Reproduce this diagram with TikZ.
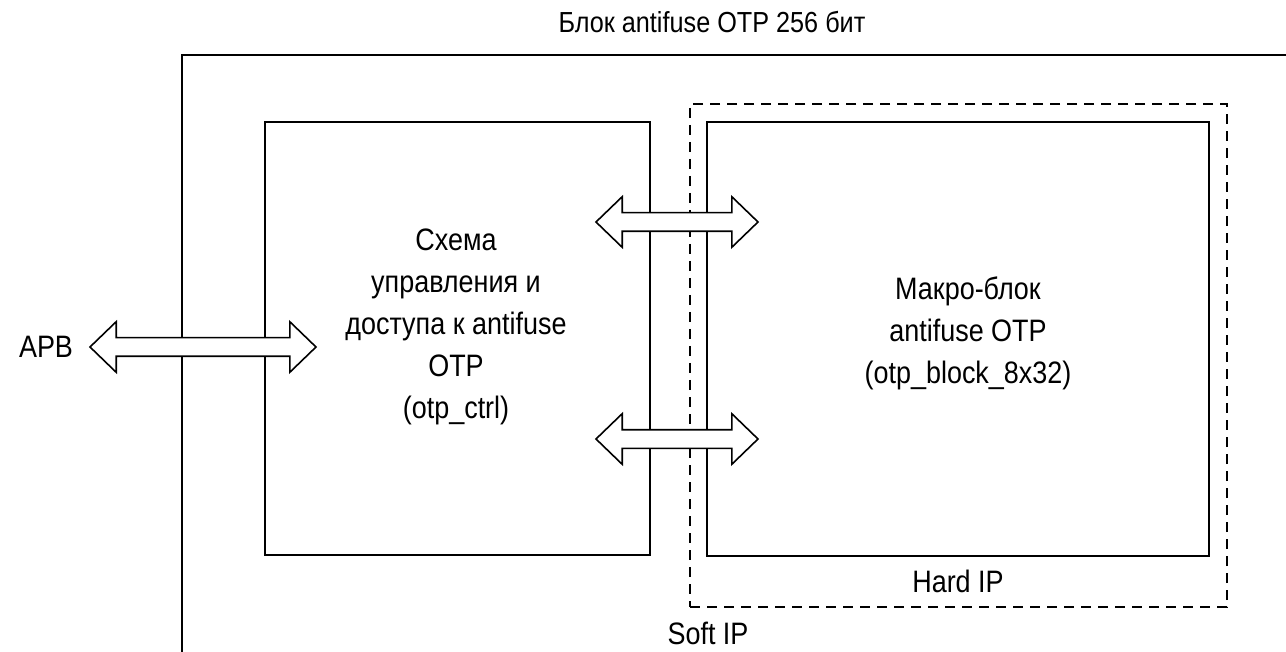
\documentclass[tikz,border=0pt]{standalone}
\usepackage{fontspec}
\setmainfont{Liberation Sans}[FakeStretch=0.87]
\usetikzlibrary{shapes.arrows}

\begin{document}
\begin{tikzpicture}[x=1pt, y=-1pt, font=\fontsize{31}{42}\selectfont, line width=1.6pt,
  box/.style={draw, align=center, inner sep=0pt},
  busarrow/.style={draw, fill=white, double arrow, inner xsep=0pt, inner ysep=8.5pt,
    double arrow head extend=16pt, double arrow tip angle=88, minimum height=#1}]
\useasboundingbox (0,0) rectangle (1286,652);
% outer block, runs off the page
\draw (1286,55) -- (182,55) -- (182,652);
\node[font=\fontsize{29}{36}\selectfont] (title) at (712,22) {Блок antifuse OTP 256 бит};
\node[box, dash pattern=on 10pt off 7pt, minimum width=537pt, minimum height=503pt] (soft) at (958.5,355.5) {};
\node[box, minimum width=385pt, minimum height=433pt] (ctrl) at (457.5,338.5) {};
\node[align=center] (ctrltext) at (456,327) {Схема\\управления и\\доступа к antifuse\\OTP\\(otp\_ctrl)};
\node[box, minimum width=502pt, minimum height=434pt] (hard) at (958,339) {};
\node[align=center] (hardtext) at (968,333) {Макро-блок\\antifuse OTP\\(otp\_block\_8x32)};
\node (hardlbl) at (958,581) {Hard IP};
\node (softlbl) at (708,633) {Soft IP};
\node (apb) at (46,347) {APB};
% bus arrows
\node[busarrow=226pt] (apbbus) at (203,347) {};
\node[busarrow=162pt] (busa) at (677,222) {};
\node[busarrow=162pt] (busb) at (677,439) {};
\end{tikzpicture}
\end{document}
